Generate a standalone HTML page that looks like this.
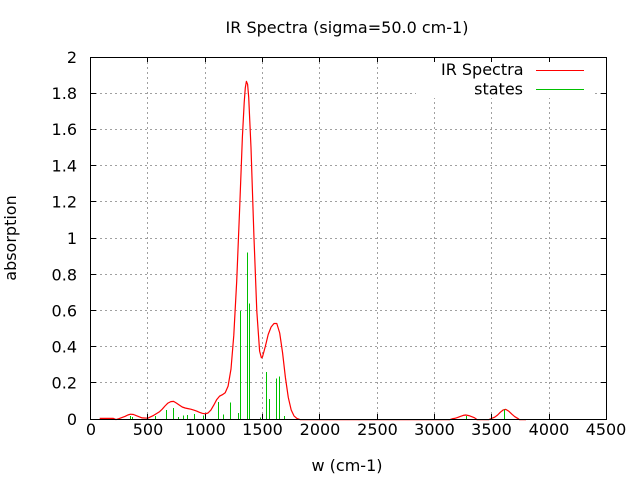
<!DOCTYPE html>
<html>
<head>
<meta charset="utf-8">
<style>
  html, body { margin: 0; padding: 0; background: #ffffff; }
  svg { display: block; }
  text { font-family: "DejaVu Sans", "Liberation Sans", sans-serif; font-size: 16px; fill: #000; }
</style>
</head>
<body>
<svg width="640" height="480" viewBox="0 0 640 480" xmlns="http://www.w3.org/2000/svg">
  <rect x="0" y="0" width="640" height="480" fill="#ffffff"/>

  <!-- grid -->
  <g stroke="#a0a0a0" stroke-width="1" stroke-dasharray="2,3" shape-rendering="crispEdges" fill="none">
    <line x1="147.5" y1="57" x2="147.5" y2="419"/>
    <line x1="205.5" y1="57" x2="205.5" y2="419"/>
    <line x1="262.5" y1="57" x2="262.5" y2="419"/>
    <line x1="319.5" y1="57" x2="319.5" y2="419"/>
    <line x1="377.5" y1="57" x2="377.5" y2="419"/>
    <line x1="434.5" y1="57" x2="434.5" y2="419"/>
    <line x1="491.5" y1="57" x2="491.5" y2="419"/>
    <line x1="549.5" y1="57" x2="549.5" y2="419"/>
    <line x1="90" y1="382.5" x2="606" y2="382.5"/>
    <line x1="90" y1="346.5" x2="606" y2="346.5"/>
    <line x1="90" y1="310.5" x2="606" y2="310.5"/>
    <line x1="90" y1="274.5" x2="606" y2="274.5"/>
    <line x1="90" y1="238.5" x2="606" y2="238.5"/>
    <line x1="90" y1="201.5" x2="606" y2="201.5"/>
    <line x1="90" y1="165.5" x2="606" y2="165.5"/>
    <line x1="90" y1="129.5" x2="606" y2="129.5"/>
    <line x1="90" y1="93.5" x2="606" y2="93.5"/>
  </g>

  <!-- key background -->
  <rect x="416" y="58" width="179" height="40" fill="#ffffff"/>

  <!-- IR spectrum curve -->
  <path fill="none" stroke="#ff0000" stroke-width="1.2" stroke-linejoin="round"
    d="M99.7,418.4 L113.4,418.4 L116,419.6 L119.2,418.6 L124.9,416.4 L127.8,415.0 L130.6,414.2 L133.5,414.5 L136.4,415.7 L142.1,417.9 L147.8,418.2 L150.7,416.8 L153.6,415.4 L159.3,411.9 L162.2,409.2 L165.0,406.0 L167.9,403.1 L170.8,401.6 L173.6,401.4 L176.5,403.1 L179.4,405.1 L182.2,407.0 L185.1,408.0 L188.0,408.6 L190.8,409.2 L193.7,410.1 L196.6,411.1 L199.4,412.3 L202.3,413.3 L205.2,413.8 L208.0,413.0 L210.9,410.1 L213.8,405.1 L216.6,399.8 L219.5,396.2 L222.4,394.7 L225.2,392.8 L228.1,386.1 L231.0,369.0 L233.8,335.2 L236.7,281.3 L239.6,209.9 L242.4,136.8 L244.2,102.6 L245.3,87.8 L246.4,81.3 L247.6,84.3 L248.7,97.2 L251.0,147.7 L253.9,235.5 L256.8,311.1 L259.6,351.1 L261.4,357.8 L262.5,356.9 L265.4,346.1 L268.2,334.5 L271.1,327.0 L274.0,323.5 L276.8,323.5 L279.7,333.0 L282.6,353.0 L285.4,377.5 L288.3,397.5 L291.2,410.0 L294.0,415.9 L296.9,418.4 L300,419.6 L450,419.6 L453,418.6 L454.6,418.4 L457.4,417.6 L460.3,416.4 L463.2,415.4 L465.7,415.0 L468.9,415.6 L471.8,416.7 L474.6,417.8 L477,419.6 L489,419.6 L491.8,418.3 L494.7,417.2 L497.6,415.0 L500.4,412.2 L503.3,409.9 L505.1,409.4 L506.2,409.6 L509.0,411.4 L511.9,414.2 L514.8,416.7 L517.6,418.3 L519.5,419.6 L526,419.6"/>

  <!-- states (sticks) -->
  <g stroke="#00c000" stroke-width="1" shape-rendering="crispEdges">
    <line x1="130.5" y1="419" x2="130.5" y2="416"/>
    <line x1="132.5" y1="419" x2="132.5" y2="417"/>
    <line x1="155.5" y1="419" x2="155.5" y2="416"/>
    <line x1="166.5" y1="419" x2="166.5" y2="410"/>
    <line x1="173.5" y1="419" x2="173.5" y2="408"/>
    <line x1="178.5" y1="419" x2="178.5" y2="417"/>
    <line x1="183.5" y1="419" x2="183.5" y2="415.7"/>
    <line x1="187.5" y1="419" x2="187.5" y2="414.8"/>
    <line x1="194.5" y1="419" x2="194.5" y2="413.8"/>
    <line x1="203.5" y1="419" x2="203.5" y2="415.7"/>
    <line x1="218.5" y1="419" x2="218.5" y2="402"/>
    <line x1="223.5" y1="419" x2="223.5" y2="414.7"/>
    <line x1="230.5" y1="419" x2="230.5" y2="402.7"/>
    <line x1="238.5" y1="419" x2="238.5" y2="413"/>
    <line x1="240.5" y1="419" x2="240.5" y2="310.8"/>
    <line x1="247.5" y1="419" x2="247.5" y2="252.7"/>
    <line x1="249.5" y1="419" x2="249.5" y2="303.7"/>
    <line x1="260.5" y1="419" x2="260.5" y2="417.6"/>
    <line x1="266.5" y1="419" x2="266.5" y2="372"/>
    <line x1="269.5" y1="419" x2="269.5" y2="399"/>
    <line x1="276.5" y1="419" x2="276.5" y2="378.6"/>
    <line x1="279.5" y1="419" x2="279.5" y2="376.6"/>
    <line x1="284.5" y1="419" x2="284.5" y2="416"/>
    <line x1="466.5" y1="419" x2="466.5" y2="416"/>
    <line x1="504.5" y1="419" x2="504.5" y2="409.4"/>
  </g>

  <!-- border -->
  <rect x="90.5" y="57.5" width="516" height="362" fill="none" stroke="#000" stroke-width="1" shape-rendering="crispEdges"/>

  <!-- ticks -->
  <g stroke="#000" stroke-width="1" shape-rendering="crispEdges">
    <line x1="90" y1="419.5" x2="96" y2="419.5"/><line x1="601" y1="419.5" x2="606" y2="419.5"/>
    <line x1="90" y1="382.5" x2="96" y2="382.5"/><line x1="601" y1="382.5" x2="606" y2="382.5"/>
    <line x1="90" y1="346.5" x2="96" y2="346.5"/><line x1="601" y1="346.5" x2="606" y2="346.5"/>
    <line x1="90" y1="310.5" x2="96" y2="310.5"/><line x1="601" y1="310.5" x2="606" y2="310.5"/>
    <line x1="90" y1="274.5" x2="96" y2="274.5"/><line x1="601" y1="274.5" x2="606" y2="274.5"/>
    <line x1="90" y1="238.5" x2="96" y2="238.5"/><line x1="601" y1="238.5" x2="606" y2="238.5"/>
    <line x1="90" y1="201.5" x2="96" y2="201.5"/><line x1="601" y1="201.5" x2="606" y2="201.5"/>
    <line x1="90" y1="165.5" x2="96" y2="165.5"/><line x1="601" y1="165.5" x2="606" y2="165.5"/>
    <line x1="90" y1="129.5" x2="96" y2="129.5"/><line x1="601" y1="129.5" x2="606" y2="129.5"/>
    <line x1="90" y1="93.5" x2="96" y2="93.5"/><line x1="601" y1="93.5" x2="606" y2="93.5"/>
    <line x1="147.5" y1="414" x2="147.5" y2="419"/><line x1="147.5" y1="57" x2="147.5" y2="62"/>
    <line x1="205.5" y1="414" x2="205.5" y2="419"/><line x1="205.5" y1="57" x2="205.5" y2="62"/>
    <line x1="262.5" y1="414" x2="262.5" y2="419"/><line x1="262.5" y1="57" x2="262.5" y2="62"/>
    <line x1="319.5" y1="414" x2="319.5" y2="419"/><line x1="319.5" y1="57" x2="319.5" y2="62"/>
    <line x1="377.5" y1="414" x2="377.5" y2="419"/><line x1="377.5" y1="57" x2="377.5" y2="62"/>
    <line x1="434.5" y1="414" x2="434.5" y2="419"/><line x1="434.5" y1="57" x2="434.5" y2="62"/>
    <line x1="491.5" y1="414" x2="491.5" y2="419"/><line x1="491.5" y1="57" x2="491.5" y2="62"/>
    <line x1="549.5" y1="414" x2="549.5" y2="419"/><line x1="549.5" y1="57" x2="549.5" y2="62"/>
  </g>

  <!-- y tick labels -->
  <g text-anchor="end">
    <text x="77" y="425">0</text>
    <text x="77" y="388.5">0.2</text>
    <text x="77" y="352.5">0.4</text>
    <text x="77" y="316.5">0.6</text>
    <text x="77" y="280.5">0.8</text>
    <text x="77" y="244">1</text>
    <text x="77" y="207.5">1.2</text>
    <text x="77" y="171.5">1.4</text>
    <text x="77" y="135">1.6</text>
    <text x="77" y="99">1.8</text>
    <text x="77" y="63">2</text>
  </g>

  <!-- x tick labels -->
  <g text-anchor="middle">
    <text x="91" y="435">0</text>
    <text x="148" y="435">500</text>
    <text x="205.5" y="435">1000</text>
    <text x="262.5" y="435">1500</text>
    <text x="320" y="435">2000</text>
    <text x="377.5" y="435">2500</text>
    <text x="434.5" y="435">3000</text>
    <text x="491.5" y="435">3500</text>
    <text x="549" y="435">4000</text>
    <text x="606" y="435">4500</text>
  </g>

  <!-- axis labels & title -->
  <text x="347" y="471" text-anchor="middle">w (cm-1)</text>
  <text transform="translate(16,238) rotate(-90)" text-anchor="middle">absorption</text>
  <text x="347" y="33" text-anchor="middle">IR Spectra (sigma=50.0 cm-1)</text>

  <!-- legend -->
  <text x="523.5" y="75" text-anchor="end">IR Spectra</text>
  <text x="523" y="94.5" text-anchor="end">states</text>
  <line x1="536" y1="70.5" x2="584" y2="70.5" stroke="#ff0000" stroke-width="1" shape-rendering="crispEdges"/>
  <line x1="536" y1="89.5" x2="584" y2="89.5" stroke="#00c000" stroke-width="1" shape-rendering="crispEdges"/>
</svg>
</body>
</html>
